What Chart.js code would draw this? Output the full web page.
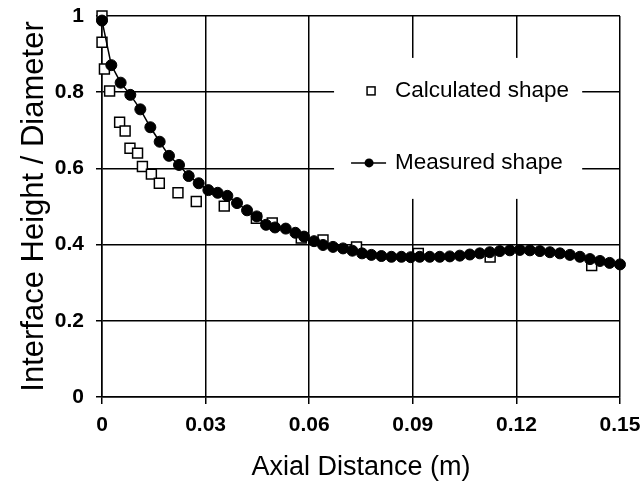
<!DOCTYPE html>
<html>
<head>
<meta charset="utf-8">
<script src="https://cdn.jsdelivr.net/npm/chart.js@4"></script>
<style>
  html, body { margin: 0; padding: 0; background: #fff; }
  #wrap { width: 640px; height: 488px; }
</style>
</head>
<body>
<div id="wrap"><canvas id="shapeChart"></canvas></div>
<script>
// calculated shape (open squares)
const calcX = [0, 0, 0.0007, 0.0022, 0.0051, 0.0067, 0.0081, 0.0103, 0.0117, 0.0143, 0.0166, 0.022, 0.0273, 0.0354, 0.0447, 0.0493, 0.0577, 0.064, 0.0737, 0.0916, 0.1124, 0.1418];
const calcY = [1.0, 0.931, 0.861, 0.803, 0.721, 0.698, 0.653, 0.640, 0.605, 0.585, 0.561, 0.536, 0.513, 0.501, 0.469, 0.457, 0.417, 0.412, 0.394, 0.377, 0.367, 0.345];

// measured shape (filled circles + line)
const measX = [0, 0.0027, 0.0054, 0.0082, 0.0111, 0.014, 0.0167, 0.0194, 0.0223, 0.0251, 0.028, 0.0308, 0.0335, 0.0363, 0.0391, 0.042, 0.0448, 0.0475, 0.0501, 0.0532, 0.056, 0.0585, 0.0614, 0.064, 0.0669, 0.0698, 0.0725, 0.0753, 0.078, 0.0809, 0.0838, 0.0867, 0.0894, 0.092, 0.0949, 0.0978, 0.1007, 0.1036, 0.1065, 0.1094, 0.1123, 0.1152, 0.1181, 0.121, 0.1239, 0.1268, 0.1297, 0.1326, 0.1355, 0.1384, 0.1413, 0.1442, 0.147, 0.15];
const measY = [0.988, 0.871, 0.825, 0.793, 0.755, 0.708, 0.670, 0.633, 0.609, 0.580, 0.561, 0.543, 0.536, 0.528, 0.509, 0.490, 0.474, 0.452, 0.445, 0.442, 0.431, 0.421, 0.409, 0.399, 0.394, 0.390, 0.384, 0.377, 0.373, 0.370, 0.368, 0.368, 0.367, 0.368, 0.368, 0.368, 0.369, 0.371, 0.374, 0.377, 0.380, 0.383, 0.385, 0.386, 0.385, 0.383, 0.380, 0.377, 0.373, 0.368, 0.362, 0.357, 0.352, 0.348];

const xTicks = [0, 0.03, 0.06, 0.09, 0.12, 0.15];
const xTickLabels = ['0', '0.03', '0.06', '0.09', '0.12', '0.15'];
const yTicks = [0, 0.2, 0.4, 0.6, 0.8, 1];
const yTickLabels = ['0', '0.2', '0.4', '0.6', '0.8', '1'];

const legendLabels = ['Calculated shape', 'Measured shape'];

const FONT = '"Liberation Sans", Arial, sans-serif';

const toPoints = (xs, ys) => xs.map((x, i) => ({ x: x, y: ys[i] }));

// legend drawn inside the plot on a white box, like the original
const boxLegend = {
    id: 'boxLegend',
    beforeDatasetsDraw(chart) {
        const a = chart.chartArea;
        const ctx = chart.ctx;
        const w = a.right - a.left, h = a.bottom - a.top;
        const bx = a.left + w * 0.448, by = a.top + h * 0.11;
        const bw = w * 0.479, bh = h * 0.37;
        ctx.save();
        ctx.fillStyle = '#fff';
        ctx.fillRect(bx, by, bw, bh);

        const tx = bx + 61;
        const y1 = by + 33, y2 = by + 105;
        ctx.font = '22.5px ' + FONT;
        ctx.fillStyle = '#000';
        ctx.textBaseline = 'middle';
        ctx.fillText(legendLabels[0], tx, y1);
        ctx.fillText(legendLabels[1], tx, y2);

        // square marker
        ctx.strokeStyle = '#000';
        ctx.lineWidth = 1.5;
        ctx.fillStyle = '#fff';
        ctx.fillRect(bx + 33, y1 - 4, 8, 8);
        ctx.strokeRect(bx + 33, y1 - 4, 8, 8);

        // line + circle marker
        ctx.beginPath();
        ctx.moveTo(bx + 17, y2);
        ctx.lineTo(bx + 52, y2);
        ctx.stroke();
        ctx.fillStyle = '#000';
        ctx.beginPath();
        ctx.arc(bx + 35, y2, 4.5, 0, Math.PI * 2);
        ctx.fill();
        ctx.restore();
    }
};

const ctx = document.getElementById('shapeChart').getContext('2d');

new Chart(ctx, {
    type: 'scatter',
    data: {
        datasets: [
            {
                label: legendLabels[1],
                data: toPoints(measX, measY),
                showLine: true,
                borderColor: '#000',
                borderWidth: 1.5,
                backgroundColor: '#000',
                pointBackgroundColor: '#000',
                pointBorderColor: '#000',
                pointRadius: 5.5,
                pointBorderWidth: 1,
                tension: 0,
                clip: false,
                order: 0
            },
            {
                label: legendLabels[0],
                data: toPoints(calcX, calcY),
                showLine: false,
                pointStyle: 'rect',
                pointRadius: 7,
                pointBorderWidth: 1.5,
                pointBorderColor: '#000',
                pointBackgroundColor: '#fff',
                clip: false,
                order: 1
            }
        ]
    },
    options: {
        responsive: true,
        maintainAspectRatio: false,
        animation: false,
        layout: { padding: { top: 0, right: 0, left: 12, bottom: 4 } },
        scales: {
            x: {
                type: 'linear',
                min: 0,
                max: 0.15,
                afterBuildTicks: (s) => { s.ticks = xTicks.map(v => ({ value: v })); },
                afterFit: (s) => { s.height = 87; s.paddingRight = 20; },
                ticks: {
                    callback: (v, i) => xTickLabels[i],
                    color: '#000',
                    padding: 9,
                    maxRotation: 0,
                    font: { family: FONT, size: 21, weight: 'bold' }
                },
                grid: { color: '#000', lineWidth: 1.5, tickLength: 7 },
                border: { color: '#000', width: 1.5 },
                title: {
                    display: true,
                    text: 'Axial Distance (m)',
                    color: '#000',
                    padding: { top: 4, bottom: 0 },
                    font: { family: FONT, size: 27 }
                }
            },
            y: {
                type: 'linear',
                min: 0,
                max: 1,
                afterBuildTicks: (s) => { s.ticks = yTicks.map(v => ({ value: v })); },
                afterFit: (s) => { s.width = 90; s.paddingTop = 16; },
                ticks: {
                    callback: (v, i) => yTickLabels[i],
                    color: '#000',
                    padding: 12,
                    font: { family: FONT, size: 21, weight: 'bold' }
                },
                grid: { color: '#000', lineWidth: 1.5, tickLength: 6 },
                border: { color: '#000', width: 1.5 },
                title: {
                    display: true,
                    text: 'Interface Height / Diameter',
                    color: '#000',
                    padding: { top: 4, bottom: 3 },
                    font: { family: FONT, size: 31 }
                }
            }
        },
        plugins: {
            legend: { display: false },
            tooltip: { enabled: false }
        }
    },
    plugins: [boxLegend]
});
</script>
</body>
</html>
